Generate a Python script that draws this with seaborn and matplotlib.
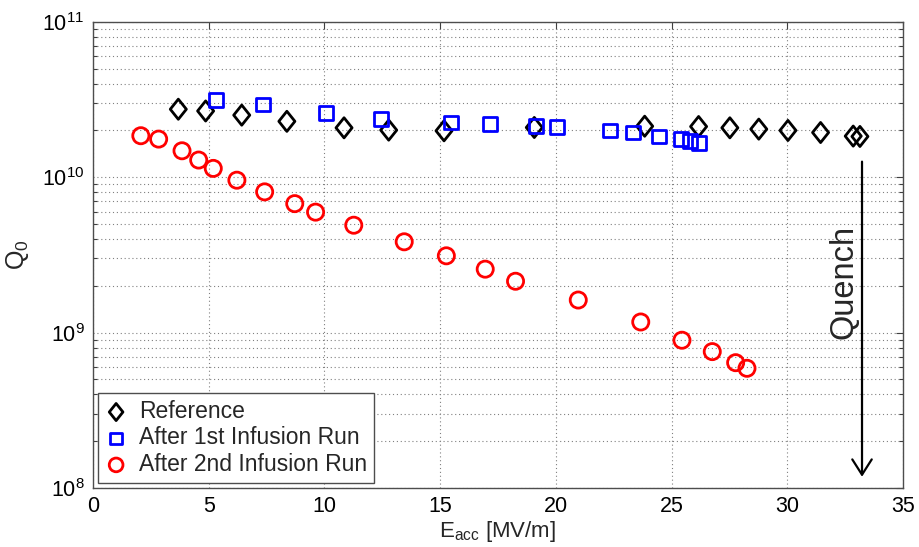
import matplotlib
matplotlib.use('Agg')
import matplotlib.pyplot as plt
import seaborn as sns
import numpy as np
from matplotlib.path import Path
from matplotlib.ticker import LogLocator, LogFormatterSciNotation, NullFormatter, MultipleLocator

# Data
ref_e = [3.69, 4.87, 6.43, 8.38, 10.85, 12.78, 15.17, 19.07, 23.84, 26.17,
         27.52, 28.77, 30.03, 31.44, 32.85, 33.14]
ref_q = [2.74e10, 2.67e10, 2.51e10, 2.29e10, 2.08e10, 2.01e10, 1.99e10, 2.09e10,
         2.13e10, 2.12e10, 2.08e10, 2.04e10, 2.00e10, 1.94e10, 1.84e10, 1.83e10]

run1_e = [5.30, 7.36, 10.06, 12.43, 15.46, 17.14, 19.13, 20.06, 22.34, 23.35,
          24.44, 25.39, 25.80, 26.20]
run1_q = [3.15e10, 2.94e10, 2.58e10, 2.38e10, 2.25e10, 2.20e10, 2.13e10, 2.11e10,
          2.00e10, 1.94e10, 1.83e10, 1.76e10, 1.71e10, 1.67e10]

run2_e = [2.07, 2.84, 3.85, 4.57, 5.20, 6.22, 7.42, 8.72, 9.62, 11.27, 13.45,
          15.27, 16.95, 18.26, 20.97, 23.67, 25.45, 26.76, 27.77, 28.26]
run2_q = [1.85e10, 1.76e10, 1.48e10, 1.29e10, 1.14e10, 9.57e9, 8.05e9, 6.76e9,
          5.96e9, 4.91e9, 3.84e9, 3.12e9, 2.56e9, 2.14e9, 1.62e9, 1.17e9,
          8.93e8, 7.54e8, 6.40e8, 5.89e8]

labels = ['Reference', 'After 1st Infusion Run', 'After 2nd Infusion Run']
quench_e = 33.23
quench_top = 1.26e10
quench_bottom = 1.18e8

sns.set_style('white')
plt.rcParams['font.family'] = ['Liberation Sans', 'DejaVu Sans']
plt.rcParams['mathtext.fontset'] = 'custom'
plt.rcParams['mathtext.rm'] = 'Liberation Sans'
plt.rcParams['mathtext.it'] = 'Liberation Sans'

fig = plt.figure(figsize=(9.2, 5.47), dpi=100)
ax = fig.add_axes([0.101, 0.108, 0.8805, 0.852])

# taller diamond like the MATLAB marker
diamond = Path([(0, 1), (0.8, 0), (0, -1), (-0.8, 0), (0, 1)],
               [Path.MOVETO, Path.LINETO, Path.LINETO, Path.LINETO, Path.CLOSEPOLY])

sns.scatterplot(x=ref_e, y=ref_q, ax=ax, marker=diamond, s=210, color='black',
                edgecolor='black', facecolor='none', linewidth=2, label=labels[0], zorder=3)
sns.scatterplot(x=run1_e, y=run1_q, ax=ax, marker='s', s=100, color='#0000ff',
                edgecolor='#0000ff', facecolor='none', linewidth=2, label=labels[1], zorder=3)
sns.scatterplot(x=run2_e, y=run2_q, ax=ax, marker='o', s=135, color='#ff0000',
                edgecolor='#ff0000', facecolor='none', linewidth=2, label=labels[2], zorder=3)

ax.set_yscale('log')
ax.set_xlim(0, 35)
ax.set_ylim(1e8, 1e11)
ax.xaxis.set_major_locator(MultipleLocator(5))
ax.yaxis.set_major_locator(LogLocator(base=10, numticks=10))
ax.yaxis.set_minor_locator(LogLocator(base=10, subs=np.arange(2, 10), numticks=20))
ax.yaxis.set_major_formatter(LogFormatterSciNotation())
ax.yaxis.set_minor_formatter(NullFormatter())

ax.grid(True, which='major', axis='both', linestyle=(0, (1, 2.5)), linewidth=0.8, color='0.5')
ax.grid(True, which='minor', axis='y', linestyle=(0, (1, 2.5)), linewidth=0.8, color='0.5')
ax.set_axisbelow(True)

ax.tick_params(axis='both', which='major', direction='in', length=5, width=0.8,
               top=True, right=True, labelsize=15.5, colors='0.25', labelcolor='black', pad=6)
ax.tick_params(axis='y', which='minor', direction='in', length=3, width=0.8,
               left=True, right=True, colors='0.25')
for sp in ax.spines.values():
    sp.set_color('0.3')
    sp.set_linewidth(1)

ax.set_xlabel(r'$\mathdefault{E_{acc}}$ [MV/m]', fontsize=16, labelpad=1)
ax.set_ylabel(r'$\mathdefault{Q_0}$', fontsize=18, labelpad=8)

# quench arrow and label
ax.annotate('', xy=(quench_e, quench_bottom), xytext=(quench_e, quench_top),
            arrowprops=dict(arrowstyle='->,head_length=1.1,head_width=0.7', lw=1.6,
                            color='black', shrinkA=0, shrinkB=0, mutation_scale=10))
ax.text(quench_e - 0.12, 2.12e9, 'Quench', rotation=90, fontsize=23.5,
        ha='right', va='center')

leg = ax.legend(loc='lower left', bbox_to_anchor=(0.006, 0.011), borderaxespad=0,
                fontsize=16.5, fancybox=False, edgecolor='0.3', framealpha=1,
                markerscale=0.85, handlelength=1.0, handletextpad=0.5,
                labelspacing=0.15, borderpad=0.3)
leg.get_frame().set_linewidth(1)

fig.savefig('out.png', dpi=100)
